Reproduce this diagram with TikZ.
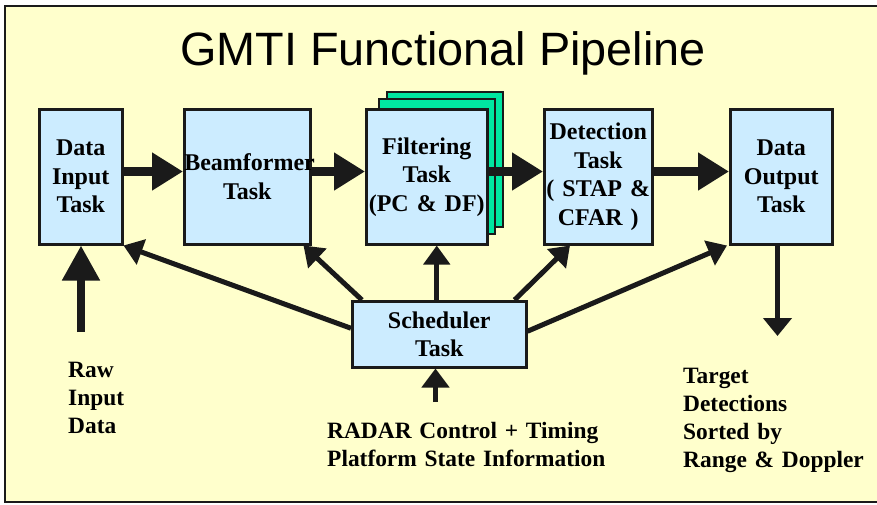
\documentclass[tikz,border=0pt]{standalone}
\usepackage{fontspec}
\setmainfont{LiberationSerif}[Extension=.ttf, UprightFont=*-Regular, BoldFont=*-Bold, ItalicFont=*-Italic, BoldItalicFont=*-BoldItalic]
\newfontfamily\titlefont{Liberation Sans}
\usetikzlibrary{arrows.meta}
\definecolor{bgcol}{HTML}{FFFFCC}
\definecolor{boxcol}{HTML}{CCECFF}
\definecolor{stackcol}{HTML}{00E6A0}
\definecolor{inkcol}{HTML}{1A1A1A}
\begin{document}
\begin{tikzpicture}[x=1pt,y=-1pt,
  taskbox/.style={draw=inkcol, line width=2.5pt, fill=boxcol, inner sep=0pt, align=center,
    font=\bfseries\fontsize{24}{28.5}\selectfont, anchor=north west},
  stackbox/.style={draw=inkcol, line width=2.5pt, fill=stackcol},
  pipearrow/.style={draw=inkcol, line width=9pt, -{Triangle[length=31pt,width=36pt]}},
  ctlarrow/.style={draw=inkcol, line width=5pt, -{Triangle[length=19pt,width=26pt]}},
  lbl/.style={font=\bfseries\fontsize{23.4}{28.3}\selectfont, align=left, inner sep=0pt, anchor=base west}]
\clip (0,0) rectangle (877,504);
\fill[white] (0,0) rectangle (877,504);
\draw[draw=inkcol, line width=2.5pt, fill=bgcol] (5,6) rectangle (895,502);
\node[font=\titlefont\fontsize{46.8}{50}\selectfont, anchor=base, inner sep=0pt] (title) at (443,65) {GMTI Functional Pipeline};
% stacked copies behind filtering task
\draw[stackbox] (387,92) rectangle (503,227);
\draw[stackbox] (379,99) rectangle (495,234);
% task boxes
\node[taskbox, minimum width=83pt, minimum height=135pt, text width=83pt] (din) at (38,108) {Data\\Input\\Task};
\node[taskbox, minimum width=126pt, minimum height=135pt, text width=126pt] (bf) at (183,108) {Beamformer\\Task};
\node[taskbox, minimum width=121pt, minimum height=135pt, text width=121pt] (filt) at (365,108) {Filtering\\Task\\(PC \& DF)};
\node[taskbox, minimum width=108pt, minimum height=135pt, text width=108pt] (det) at (543,108) {Detection\\Task\\( STAP \&\\CFAR )};
\node[taskbox, minimum width=102pt, minimum height=135pt, text width=102pt] (dout) at (729,108) {Data\\Output\\Task};
\node[taskbox, minimum width=174pt, minimum height=66pt, text width=174pt] (sch) at (351,300) {Scheduler\\Task};
% pipeline arrows
\coordinate (pipey) at (0,171.5);
\draw[pipearrow] (din.east |- pipey) -- (bf.west |- pipey);
\draw[pipearrow] (bf.east |- pipey) -- (filt.west |- pipey);
\draw[pipearrow] (filt.east |- pipey) -- (det.west |- pipey);
\draw[pipearrow] (det.east |- pipey) -- (dout.west |- pipey);
% scheduler control arrows
\draw[ctlarrow] ([yshift=6pt]sch.west) -- (din.south east);
\draw[ctlarrow] ([xshift=11pt]sch.north west) -- ([xshift=-8pt]bf.south east);
\coordinate (schup) at ([xshift=-2.5pt]sch.north);
\draw[ctlarrow] (schup) -- (filt.south -| schup);
\draw[ctlarrow] ([xshift=-13pt]sch.north east) -- ([xshift=27pt]det.south west);
\draw[ctlarrow] ([yshift=3pt]sch.east) -- ([xshift=-2pt]dout.south west);
% inputs and outputs
\coordinate (rawin) at (81,332);
\draw[draw=inkcol, line width=8pt, -{Triangle[length=35pt,width=36pt]}] (rawin) -- (din.south -| rawin);
\coordinate (ctlin) at (435.5,402);
\draw[draw=inkcol, line width=5pt, -{Triangle[length=19pt,width=27pt]}] (ctlin) -- (sch.south -| ctlin);
\coordinate (outend) at (777.5,336);
\draw[draw=inkcol, line width=5pt, -{Triangle[length=18pt,width=28pt]}] (dout.south -| outend) -- (outend);
% labels
\node[lbl, text width=80pt] (rawlbl) at (68,377) {Raw\\Input\\Data};
\node[lbl, text width=290pt] (ctllbl) at (327,438) {RADAR Control + Timing\\Platform State Information};
\node[lbl, text width=190pt] (tgtlbl) at (683,383) {Target\\Detections\\Sorted by\\Range \& Doppler};
\end{tikzpicture}
\end{document}
